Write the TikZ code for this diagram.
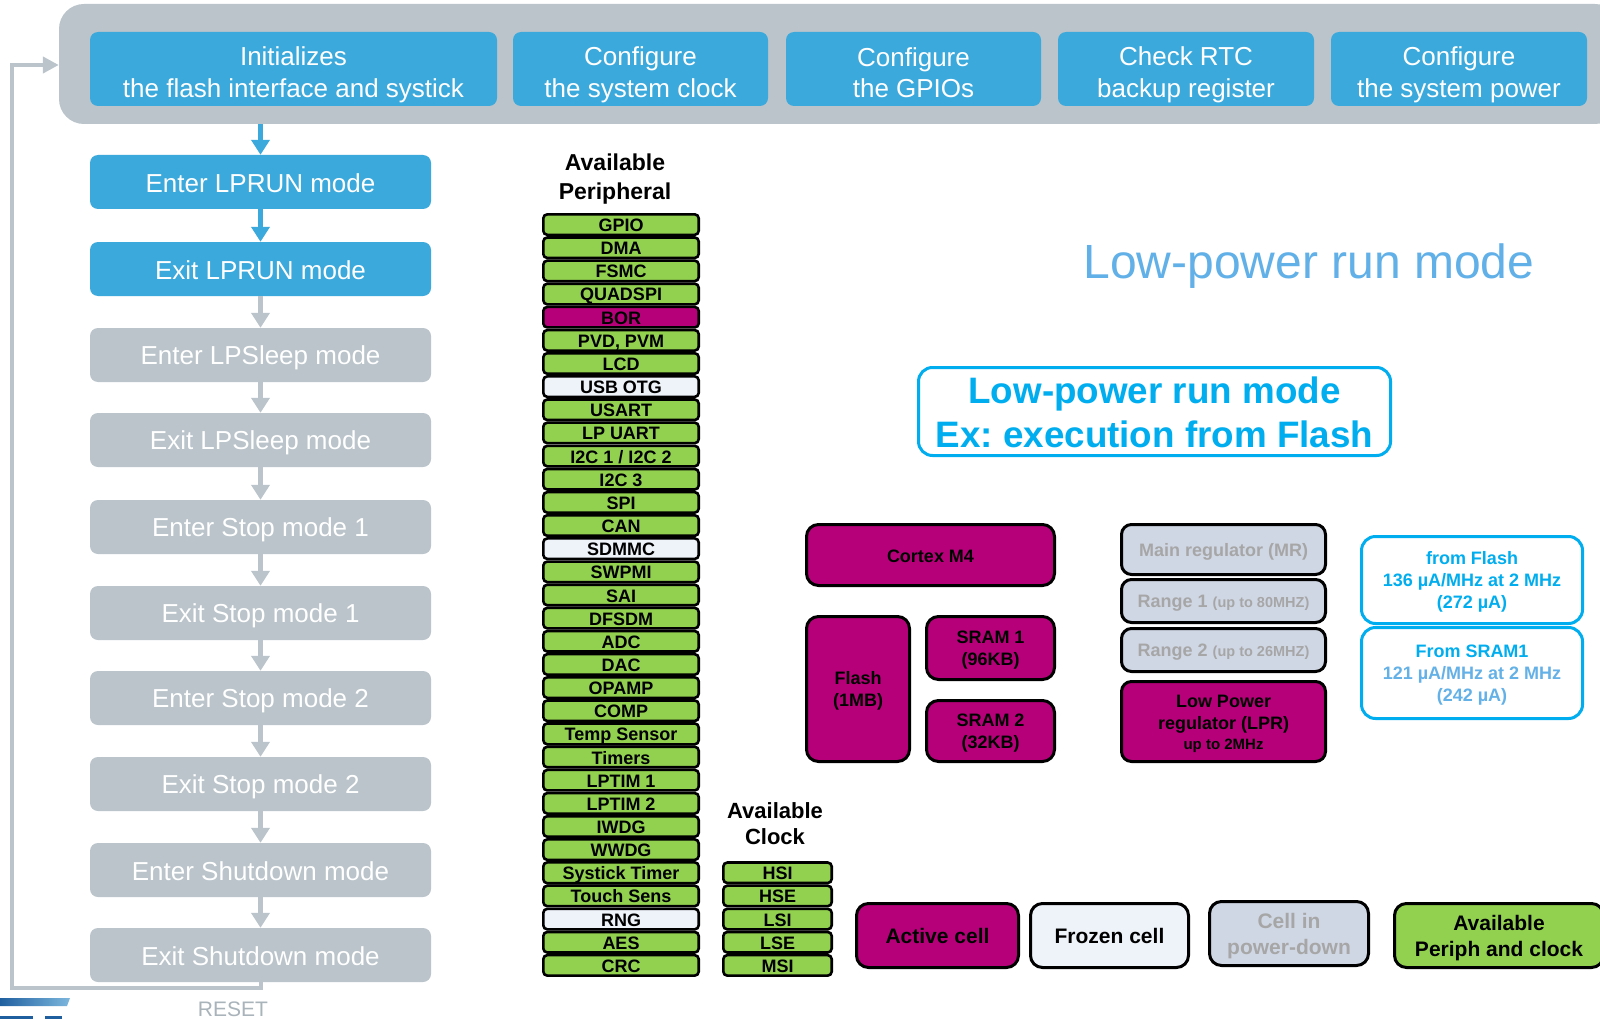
\documentclass[tikz,border=0pt]{standalone}
\usepackage{fontspec}
\setmainfont{Liberation Sans}
\usetikzlibrary{arrows.meta}
\definecolor{bandgray}{HTML}{BAC4CA}
\definecolor{stblue}{HTML}{3BA9DC}
\definecolor{magent}{HTML}{B6007A}
\definecolor{pgreen}{HTML}{92D050}
\definecolor{frozen}{HTML}{EEF3FA}
\definecolor{pdown}{HTML}{D0D7E4}
\definecolor{pdtext}{HTML}{A6A6A6}
\definecolor{cyanb}{HTML}{00AEEF}
\definecolor{ltblue}{HTML}{64B1E7}
\definecolor{ltitle}{HTML}{62B0E8}
\definecolor{resetgray}{HTML}{A9B3BA}
\definecolor{logodark}{HTML}{1F5F9F}
\definecolor{logolight}{HTML}{7DB7DE}
\newcommand\fsz[2]{\fontsize{#1}{#2}\selectfont}
\newcommand\pstrut{\rule[-0.17em]{0pt}{1.12em}}
\newcommand\tstrut{\rule{0pt}{30.7pt}}
\newcommand\perrow[3]{\node[prow,#3] (p#1) at (621,{213+23.15*(#1-0.5)}) {#2};}
\tikzset{
  every node/.append style={execute at begin node=\pstrut, execute at end node=\pstrut},
  topbox/.style={fill=stblue, rounded corners=8pt, text=white, font=\fsz{26}{31.6}, align=center, inner sep=0pt, minimum height=74pt},
  flowblue/.style={fill=stblue, rounded corners=8pt, text=white, font=\fsz{26}{32}, align=center, inner sep=0pt, minimum width=341pt, minimum height=54pt},
  flowgray/.style={flowblue, fill=bandgray},
  barrow/.style={draw=stblue, line width=5.8pt, -{Triangle[length=15pt,width=18pt]}},
  garrow/.style={barrow, draw=bandgray},
  prow/.style={draw=black, line width=2.6pt, rounded corners=4pt, fill=pgreen, minimum width=155.4pt, minimum height=20.5pt, inner sep=0pt, font=\bfseries\fsz{18}{20}},
  frz/.style={fill=frozen},
  bor/.style={fill=magent},
  heading/.style={font=\bfseries\fsz{23}{29}, align=center, inner sep=0pt},
  mbox/.style={draw=black, line width=3pt, rounded corners=12pt, fill=magent, font=\bfseries\fsz{18}{22}, align=center, inner sep=0pt},
  rbox/.style={draw=black, line width=3pt, rounded corners=10pt, fill=pdown, text=pdtext, font=\bfseries\fsz{18}{22}, align=center, inner sep=0pt, minimum width=204pt},
  ibox/.style={draw=cyanb, line width=3pt, rounded corners=14pt, fill=white, text=cyanb, font=\bfseries\fsz{18}{22}, align=center, inner sep=0pt, minimum width=221pt},
  lbox/.style={draw=black, line width=3pt, rounded corners=12pt, font=\bfseries\fsz{21}{25.5}, align=center, inner sep=0pt, minimum height=64pt},
}
\begin{document}
\frenchspacing
\begin{tikzpicture}[x=1pt,y=-1pt]
\clip (0,0) rectangle (1600,1019);
\fill[white] (0,0) rectangle (1600,1019);

% top band
\node[fill=bandgray, rounded corners=25pt, minimum width=1561pt, minimum height=120pt, inner sep=0pt] (band) at (839.5,64) {};
\node[topbox, minimum width=407pt] (t1) at (293.5,69) {\tstrut Initializes\\the flash interface and systick\pstrut};
\node[topbox, minimum width=255pt] (t2) at (640.5,69) {\tstrut Configure\\the system clock\pstrut};
\node[topbox, minimum width=255pt] (t3) at (913.5,69) {\tstrut Configure\\the GPIOs\pstrut};
\node[topbox, minimum width=256pt] (t4) at (1186,69) {\tstrut Check RTC\\backup register\pstrut};
\node[topbox, minimum width=256pt] (t5) at (1459,69) {\tstrut Configure\\the system power\pstrut};

% flow column
\node[flowblue] (f1) at (260.5,182) {Enter LPRUN mode};
\node[flowblue] (f2) at (260.5,269) {Exit LPRUN mode};
\node[flowgray] (f3) at (260.5,355) {Enter LPSleep mode};
\node[flowgray] (f4) at (260.5,440) {Exit LPSleep mode};
\node[flowgray] (f5) at (260.5,527) {Enter Stop mode 1};
\node[flowgray] (f6) at (260.5,613) {Exit Stop mode 1};
\node[flowgray] (f7) at (260.5,698) {Enter Stop mode 2};
\node[flowgray] (f8) at (260.5,784) {Exit Stop mode 2};
\node[flowgray] (f9) at (260.5,870) {Enter Shutdown mode};
\node[flowgray] (f10) at (260.5,955) {Exit Shutdown mode};

\draw[barrow] (f1.north |- band.south) -- (f1.north);
\draw[barrow] (f1.south) -- (f2.north);
\draw[garrow] (f2.south) -- (f3.north);
\draw[garrow] (f3.south) -- (f4.north);
\draw[garrow] (f4.south) -- (f5.north);
\draw[garrow] (f5.south) -- (f6.north);
\draw[garrow] (f6.south) -- (f7.north);
\draw[garrow] (f7.south) -- (f8.north);
\draw[garrow] (f8.south) -- (f9.north);
\draw[garrow] (f9.south) -- (f10.north);

% feedback loop
\coordinate (fbl) at (12,988);
\coordinate (fbt) at (12,65);
\draw[draw=bandgray, line width=4pt, -{Triangle[length=16pt,width=16pt]}] (f10.south) |- (fbl) -- (fbt) -- (fbt -| band.west);
\node[text=resetgray, font=\fsz{21}{24}, inner sep=0pt] (reset) at (233,1008) {RESET};

% logo fragment
\shade[left color=logodark, right color=logolight] (0,998) -- (70,998) -- (67,1006) -- (0,1006) -- cycle;
\fill[logodark] (0,1016) rectangle (33,1019);
\fill[logodark] (45,1016) rectangle (62,1019);

% peripherals
\node[heading] (hp) at (615,176.5) {\pstrut Available\\Peripheral\pstrut};
\perrow{1}{GPIO}{}
\perrow{2}{DMA}{}
\perrow{3}{FSMC}{}
\perrow{4}{QUADSPI}{}
\perrow{5}{BOR}{bor}
\perrow{6}{PVD, PVM}{}
\perrow{7}{LCD}{}
\perrow{8}{USB OTG}{frz}
\perrow{9}{USART}{}
\perrow{10}{LP UART}{}
\perrow{11}{I2C 1 / I2C 2}{}
\perrow{12}{I2C 3}{}
\perrow{13}{SPI}{}
\perrow{14}{CAN}{}
\perrow{15}{SDMMC}{frz}
\perrow{16}{SWPMI}{}
\perrow{17}{SAI}{}
\perrow{18}{DFSDM}{}
\perrow{19}{ADC}{}
\perrow{20}{DAC}{}
\perrow{21}{OPAMP}{}
\perrow{22}{COMP}{}
\perrow{23}{Temp Sensor}{}
\perrow{24}{Timers}{}
\perrow{25}{LPTIM 1}{}
\perrow{26}{LPTIM 2}{}
\perrow{27}{IWDG}{}
\perrow{28}{WWDG}{}
\perrow{29}{Systick Timer}{}
\perrow{30}{Touch Sens}{}
\perrow{31}{RNG}{frz}
\perrow{32}{AES}{}
\perrow{33}{CRC}{}

% clocks
\node[heading, font=\bfseries\fsz{22}{26}] (hc) at (775,822.5) {\pstrut Available\\Clock\pstrut};
\node[prow, minimum width=108.4pt] (c1) at (777.5,{213+23.15*28.5}) {HSI};
\node[prow, minimum width=108.4pt] (c2) at (777.5,{213+23.15*29.5}) {HSE};
\node[prow, minimum width=108.4pt] (c3) at (777.5,{213+23.15*30.5}) {LSI};
\node[prow, minimum width=108.4pt] (c4) at (777.5,{213+23.15*31.5}) {LSE};
\node[prow, minimum width=108.4pt] (c5) at (777.5,{213+23.15*32.5}) {MSI};

% titles
\node[text=ltitle, font=\fsz{48}{56}, anchor=base, inner sep=0pt] (title) at (1309,278) {Low-power run mode};
\node[draw=cyanb, line width=3pt, rounded corners=14pt, minimum width=472pt, minimum height=88pt, text=cyanb, font=\bfseries\fsz{36.8}{44}, align=center, inner sep=0pt] (bt) at (1154.5,411.5) {\pstrut Low-power run mode\\Ex: execution from Flash\pstrut};

% core cells
\node[mbox, minimum width=248pt, minimum height=61pt] (cortex) at (930.5,555) {Cortex M4};
\node[mbox, minimum width=103pt, minimum height=145pt] (flash) at (858,689) {\pstrut Flash\\(1MB)\pstrut};
\node[mbox, minimum width=128pt, minimum height=63pt] (sram1) at (990.5,648) {\pstrut SRAM 1\\(96KB)\pstrut};
\node[mbox, minimum width=128pt, minimum height=61pt] (sram2) at (990.5,731) {\pstrut SRAM 2\\(32KB)\pstrut};

% regulators
\node[rbox, minimum height=50pt] (mr) at (1223.5,549.5) {Main regulator (MR)};
\node[rbox, minimum height=43pt] (r1) at (1223.5,601) {Range 1 {\fsz{14.5}{16}(up to 80MHZ)}};
\node[rbox, minimum height=43pt] (r2) at (1223.5,650) {Range 2 {\fsz{14.5}{16}(up to 26MHZ)}};
\node[rbox, fill=magent, text=black, minimum height=80pt] (lpr) at (1223.5,721.5) {\pstrut Low Power\\regulator (LPR)\\[-2pt]{\fsz{15}{18}up to 2MHz}\pstrut};

% consumption
\node[ibox, minimum height=87pt] (iflash) at (1472,580) {\pstrut from Flash\\136 µA/MHz at 2 MHz\\(272 µA)\pstrut};
\node[ibox, minimum height=91pt] (isram) at (1472,673) {\pstrut From SRAM1\\{\color{ltblue}121 µA/MHz at 2 MHz}\\{\color{ltblue}(242 µA)}\pstrut};

% legend
\node[lbox, fill=magent, minimum width=162pt] (lact) at (937.5,935.5) {Active cell};
\node[lbox, fill=frozen, minimum width=158pt] (lfrz) at (1109.5,935.5) {Frozen cell};
\node[lbox, fill=pdown, text=pdtext, minimum width=159pt] (lpd) at (1289,933.5) {\pstrut Cell in\\power-down\pstrut};
\node[lbox, fill=pgreen, minimum width=209pt] (lav) at (1499,935.5) {\pstrut Available\\Periph and clock\pstrut};
\end{tikzpicture}
\end{document}
